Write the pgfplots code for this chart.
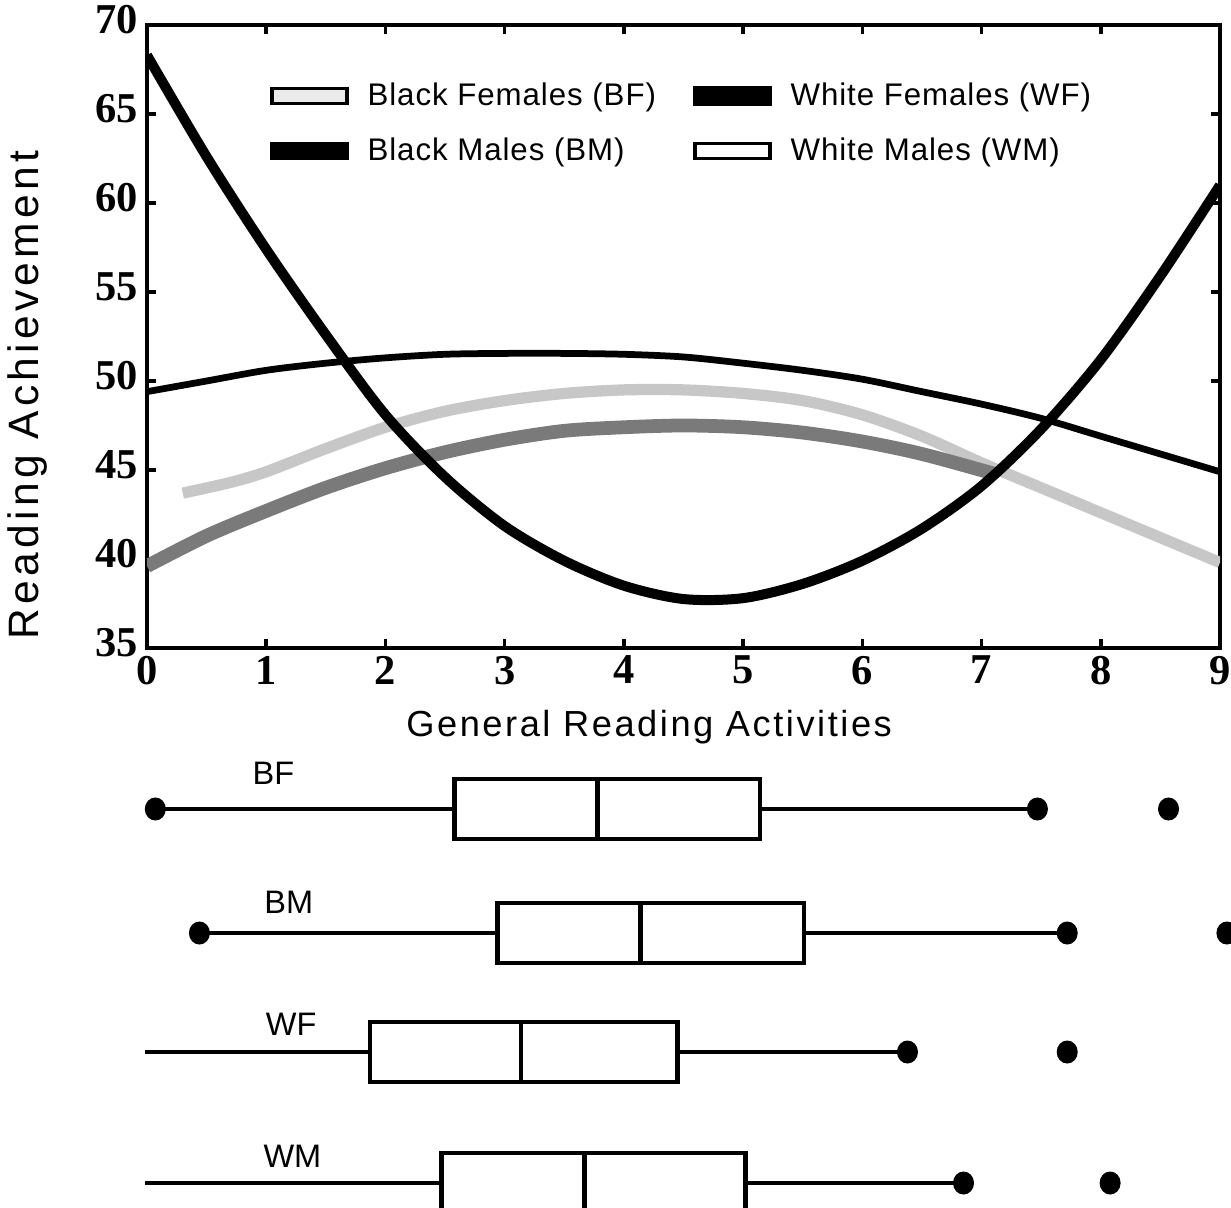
\documentclass[border=0pt]{standalone}
\usepackage{fontspec}
\setmainfont{Liberation Sans}
\newfontfamily\tickfam{Liberation Serif}
\newfontfamily\ylabfam{Liberation Sans}[LetterSpace=10]
\newfontfamily\xlabfam{Liberation Sans}[LetterSpace=7]
\newfontfamily\legfam{Liberation Sans}[LetterSpace=3]
\usepackage{pgfplots}
\pgfplotsset{compat=1.18}
\usepgfplotslibrary{statistics}
\begin{document}
\begin{tikzpicture}
\begin{axis}[
  name=top, at={(0pt,0pt)}, anchor=north west,
  scale only axis, width=429.2pt, height=249.2pt,
  xmin=0, xmax=9, ymin=35, ymax=70,
  xtick={0,1,...,9}, ytick={35,40,...,70},
  tick align=inside, major tick length=3.5pt,
  every tick/.style={line width=1.4pt, black},
  axis line style={line width=1.6pt},
  /pgf/number format/assume math mode=true,
  tick label style={font=\tickfam\bfseries\fontsize{17}{17}\selectfont},
  xticklabel style={inner sep=1pt, yshift=-2pt},
  yticklabel style={inner sep=1pt, xshift=-2.5pt, yshift=2pt},
  xlabel={General Reading Activities}, ylabel={Reading Achievement},
  xlabel style={at={(axis description cs:0.468,-0.127)}, anchor=center, font=\xlabfam\fontsize{14.5}{17}\selectfont},
  ylabel style={at={(axis description cs:-0.111,0.406)}, anchor=center, font=\ylabfam\fontsize{17}{20}\selectfont},
  legend columns=2,
  legend cell align=left,
  legend style={draw=none, fill=none, inner sep=0pt,
    at={(axis description cs:0.1146,0.916)}, anchor=north west,
    font=\legfam\fontsize{12.5}{14}\selectfont, row sep=7.5pt,
    /tikz/every even column/.append style={column sep=13pt}},
]
% Light dotted band
\addplot[forget plot, smooth, black!22, line width=4.5pt] coordinates {
(0.3,43.7) (0.7,44.3) (1,44.9) (1.5,46.2) (2,47.4) (2.5,48.3) (3,48.9) (3.5,49.3) (4,49.5) (4.5,49.5) (5,49.3) (5.5,48.9) (6,48.1) (6.5,46.9) (7,45.4) (7.5,44.0) (8,42.6) (8.5,41.2) (9,39.8)};
% Medium gray band
\addplot[forget plot, smooth, black!52, line width=5.5pt] coordinates {
(0,39.6) (0.5,41.3) (1,42.7) (1.5,44.0) (2,45.1) (2.5,46.0) (3,46.7) (3.5,47.2) (4,47.4) (4.5,47.5) (5,47.4) (5.5,47.1) (6,46.6) (6.5,45.9) (7.1,44.8)};
% Arch line
\addplot[forget plot, smooth, black, line width=2.7pt] coordinates {
(0,49.4) (0.5,50.0) (1,50.6) (1.5,51.0) (2,51.3) (2.5,51.5) (3,51.55) (3.5,51.55) (4,51.5) (4.5,51.35) (5,51.0) (5.5,50.6) (6,50.1) (6.5,49.4) (7,48.7) (7.5,47.9) (8,46.9) (8.5,45.9) (9,44.9)};
% U curve
\addplot[forget plot, smooth, black, line width=4pt] coordinates {
(0,68.3) (0.5,62.6) (1,57.4) (1.5,52.6) (2,48.1) (2.5,44.6) (3,41.85) (3.5,39.9) (4,38.5) (4.5,37.75) (5,37.8) (5.5,38.6) (6,39.9) (6.5,41.7) (7,44.1) (7.5,47.3) (8,51.2) (8.5,55.9) (9,61.0)};
\addlegendimage{legend image code/.code={\draw[black, line width=1.3pt, fill=black!8] (0pt,-3pt) rectangle (30pt,3pt); \path (36pt,0pt);}}
\addlegendentry{Black Females (BF)}
\addlegendimage{legend image code/.code={\draw[black, line width=1.3pt, fill=black] (0pt,-3.5pt) rectangle (30pt,3.5pt); \path (36pt,0pt);}}
\addlegendentry{White Females (WF)}
\addlegendimage{legend image code/.code={\draw[black, line width=1.3pt, fill=black] (0pt,-3pt) rectangle (30pt,3pt); \path (36pt,0pt);}}
\addlegendentry{Black Males (BM)}
\addlegendimage{legend image code/.code={\draw[black, line width=1.3pt, fill=white] (0pt,-3pt) rectangle (30pt,3pt); \path (36pt,0pt);}}
\addlegendentry{White Males (WM)}
\end{axis}

\begin{axis}[
  at={(-58.8pt,-288pt)}, anchor=north west,
  scale only axis, width=492.4pt, height=185.2pt,
  xmin=-1.2332, xmax=9.094, ymin=745, ymax=1208, y dir=reverse,
  hide axis, clip=true,
  boxplot/draw direction=x,
  boxplot/whisker extend=0,
]
\addplot[black, line width=1.7pt, boxplot prepared={lower whisker=0.07, lower quartile=2.58, median=3.78, upper quartile=5.14, upper whisker=7.47, draw position=809, box extend=60}] coordinates {};
\addplot[black, line width=1.7pt, boxplot prepared={lower whisker=0.44, lower quartile=2.94, median=4.14, upper quartile=5.51, upper whisker=7.72, draw position=933, box extend=60}] coordinates {};
\addplot[black, line width=1.7pt, boxplot prepared={lower whisker=-0.02, lower quartile=1.87, median=3.14, upper quartile=4.45, upper whisker=6.38, draw position=1052, box extend=60}] coordinates {};
\addplot[black, line width=1.7pt, boxplot prepared={lower whisker=-0.02, lower quartile=2.47, median=3.67, upper quartile=5.02, upper whisker=6.85, draw position=1183, box extend=60}] coordinates {};
\addplot[only marks, mark=*, mark size=4pt, mark options={yscale=1.1}, black] coordinates {
(0.07,809) (7.47,809) (8.57,809)
(0.44,933) (7.72,933) (9.06,933)
(6.38,1052) (7.72,1052)
(6.85,1183) (8.08,1183)};
\node[font=\fontsize{13}{15}\selectfont] at (axis cs:1.06,773) {BF};
\node[font=\fontsize{13}{15}\selectfont] at (axis cs:1.19,902) {BM};
\node[font=\fontsize{13}{15}\selectfont] at (axis cs:1.21,1024) {WF};
\node[font=\fontsize{13}{15}\selectfont] at (axis cs:1.22,1156) {WM};
\end{axis}
\pgfresetboundingbox
\path[use as bounding box] (-58.8pt,10pt) rectangle (433.6pt,-473.2pt);
\end{tikzpicture}
\end{document}
